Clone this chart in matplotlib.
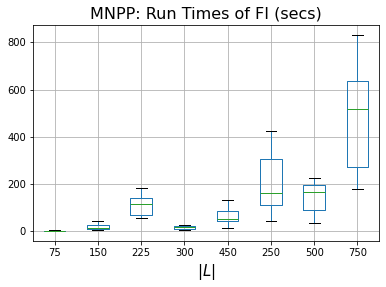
import matplotlib
matplotlib.use("Agg")
import matplotlib.pyplot as plt

# ------------------------------------------------------------
#  Box statistics (seconds)
# ------------------------------------------------------------
labels = ["75", "150", "225", "300", "450", "250", "500", "750"]
whislo = [0.5, 4, 55, 4, 13, 46, 34, 178]
q1     = [0.8, 8, 68, 8, 46, 110, 89, 271]
med    = [1.0, 13, 114, 17, 51, 161, 165, 516]
q3     = [1.5, 29, 140, 21, 85, 305, 195, 635]
whishi = [4, 46, 182, 25, 131, 423, 224, 830]

stats = [
    dict(label=l, whislo=a, q1=b, med=c, q3=d, whishi=e, fliers=[])
    for l, a, b, c, d, e in zip(labels, whislo, q1, med, q3, whishi)
]

fig = plt.figure(figsize=(386 / 72, 287 / 72), dpi=72)
ax = fig.add_axes([0.0855, 0.160, 0.8965, 0.753])

ax.bxp(stats, widths=0.5,
       boxprops=dict(color="#1f77b4"),
       whiskerprops=dict(color="#1f77b4"),
       capprops=dict(color="black"),
       medianprops=dict(color="#2ca02c"))

ax.grid(True, color="#b0b0b0", linewidth=0.8)
ax.set_axisbelow(True)
ax.set_ylim(-41, 873)
ax.set_yticks([0, 200, 400, 600, 800])
ax.tick_params(labelsize=10)
ax.set_title("MNPP: Run Times of FI (secs)", fontsize=16)
ax.set_xlabel("$|L|$", fontsize=15)

fig.savefig("out.png", dpi=72)
